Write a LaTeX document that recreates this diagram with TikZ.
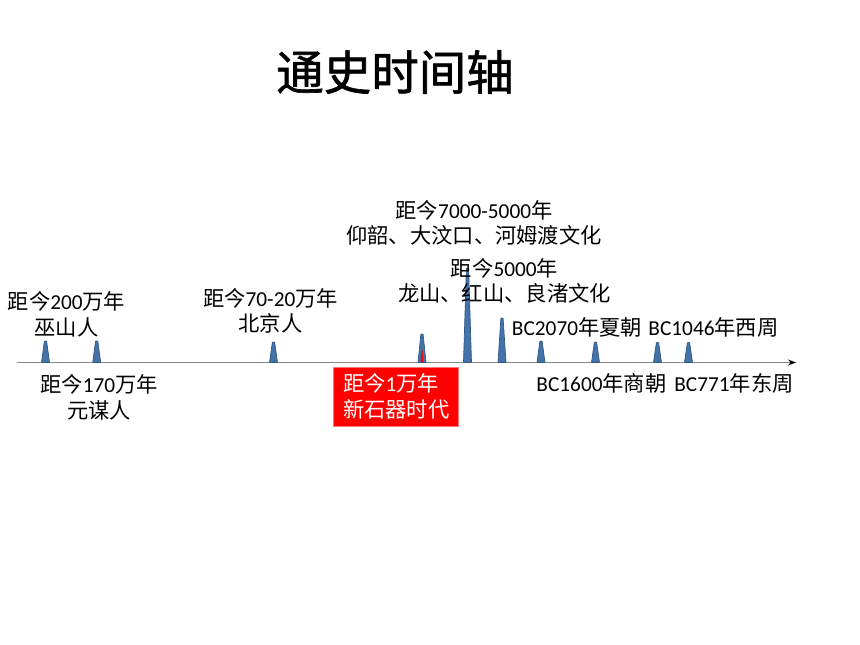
\documentclass[tikz,border=0pt]{standalone}
\usepackage{fontspec}
\setmainfont{Carlito}
\newfontfamily\cj{Noto Sans CJK SC}
\newfontfamily\cjt[FakeBold=1.3]{Noto Sans CJK SC}
\usetikzlibrary{arrows.meta}
\definecolor{spk}{HTML}{4473AA}
\definecolor{spkd}{HTML}{2F5784}
\definecolor{axisgray}{HTML}{868686}
\tikzset{
  lbl/.style={align=center,inner sep=0pt,font=\fontsize{21.3}{25.5}\selectfont},
  spikeshape/.style={fill=spk,draw=spkd,line width=0.7pt,rounded corners=0.6pt},
}
\newcommand\tlspike[2]{\draw[spikeshape] (#1-4,362.5) -- (#1-1.1,#2) -- (#1+1.1,#2) -- (#1+4,362.5) -- cycle;}
\begin{document}
\begin{tikzpicture}[x=1pt,y=-1pt]
\useasboundingbox (0,0) rectangle (860,645);
% title
\node[inner sep=0pt,font=\cjt\fontsize{47.5}{50}\selectfont] (title) at (395,72) {通史时间轴};
% axis
\coordinate (axs) at (17,362.5);
\coordinate (axe) at (796,362.5);
\draw[axisgray,line width=1.3pt,-{Stealth[black,length=8pt,width=6pt]}] (axs) -- (axe);
% spikes
\tlspike{45.5}{341}
\tlspike{96.7}{341}
\tlspike{273.5}{342}
\tlspike{422}{334}
\fill[red] (420.6,362) -- (421.6,350) -- (422.4,350) -- (423.4,362) -- cycle;
\tlspike{467.5}{268}
\tlspike{502}{318}
\tlspike{541}{341}
\tlspike{595.5}{342}
\tlspike{657.5}{342.5}
\tlspike{688.5}{342.5}
% labels
\node[lbl] (wushan) at (66.5,314.5) {{\cj 距今}200{\cj 万年}\\{\cj 巫山人}};
\node[lbl] (yuanmou) at (99,397.5) {{\cj 距今}170{\cj 万年}\\{\cj 元谋人}};
\node[lbl] (beijing) at (270.5,311) {{\cj 距今}70-20{\cj 万年}\\{\cj 北京人}};
\node[lbl,align=left,fill=red,text=white,draw={rgb,255:red,255;green,120;blue,120},line width=0.6pt,
      minimum width=125pt,minimum height=59pt,text width=105pt,inner xsep=10pt] (xinshiqi) at (395.5,396.5)
      {{\cj 距今}1{\cj 万年}\\{\cj 新石器时代}};
\node[lbl] (yangshao) at (474,223) {{\cj 距今}7000-5000{\cj 年}\\{\cj 仰韶、大汶口、河姆渡文化}};
\node[lbl] (longshan) at (504.5,281) {{\cj 距今}5000{\cj 年}\\{\cj 龙山、红山、良渚文化}};
\node[lbl] (xia) at (577,327) {BC2070{\cj 年夏朝}};
\node[lbl] (xizhou) at (713.5,327) {BC1046{\cj 年西周}};
\node[lbl] (shang) at (601.5,383) {BC1600{\cj 年商朝}};
\node[lbl] (dongzhou) at (734,383) {BC771{\cj 年东周}};
\end{tikzpicture}
\end{document}
